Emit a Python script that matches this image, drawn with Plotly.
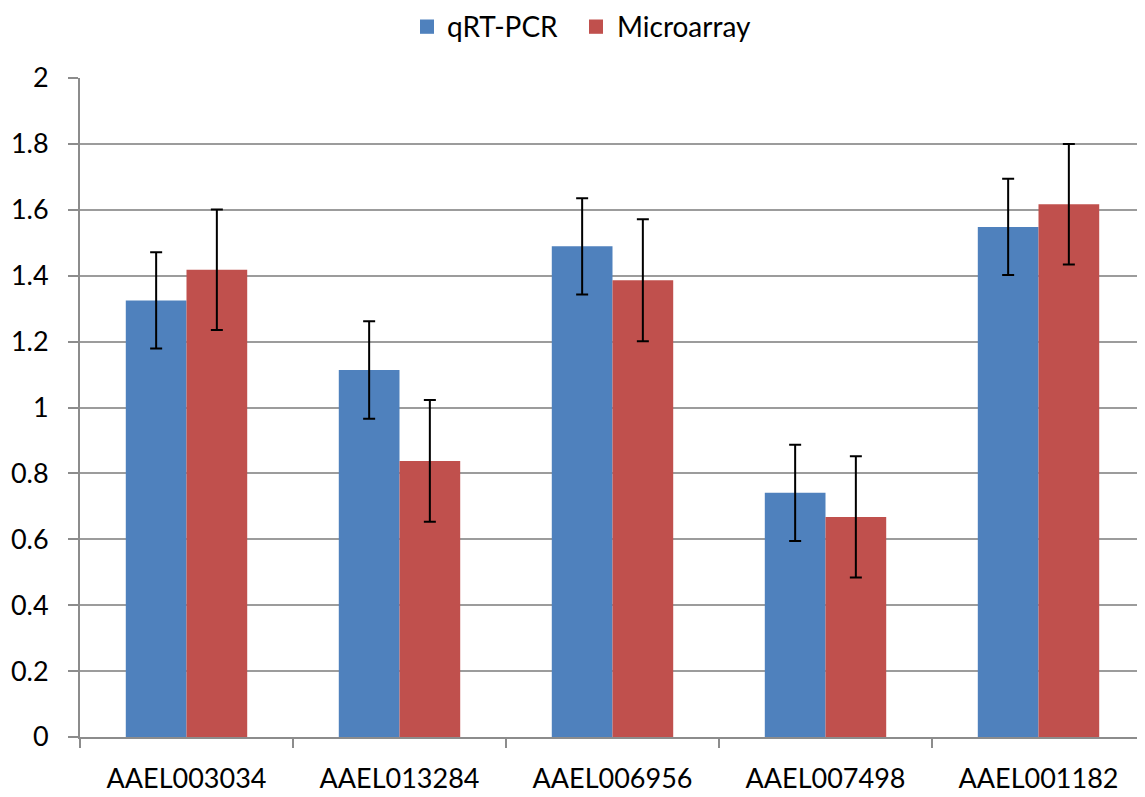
import plotly.graph_objects as go

categories = ["AAEL003034", "AAEL013284", "AAEL006956", "AAEL007498", "AAEL001182"]
qrt_pcr = [1.325, 1.114, 1.489, 0.741, 1.548]
qrt_pcr_err = [0.146, 0.148, 0.146, 0.146, 0.146]
microarray = [1.418, 0.838, 1.386, 0.668, 1.617]
microarray_err = [0.183, 0.185, 0.185, 0.184, 0.183]
y_ticks = [0, 0.2, 0.4, 0.6, 0.8, 1, 1.2, 1.4, 1.6, 1.8, 2]
y_tick_labels = ["0", "0.2", "0.4", "0.6", "0.8", "1", "1.2", "1.4", "1.6", "1.8", "2"]
series_names = ["qRT-PCR", "Microarray"]
series_colors = ["#4F81BD", "#C0504D"]

FONT = "Lato"
W, H = 1137, 789
ML, MR, MT, MB = 72, 0, 70, 60
PW, PH = W - ML - MR, H - MT - MB


def px_x(x):  # figure pixel -> paper x
    return (x - ML) / PW


def px_y(y):  # figure pixel -> paper y
    return 1 + (MT - y) / PH


err_style = dict(type="data", symmetric=True, color="black", thickness=2, width=6)

fig = go.Figure()
for name, vals, errs, col in zip(series_names, [qrt_pcr, microarray],
                                 [qrt_pcr_err, microarray_err], series_colors):
    fig.add_trace(go.Bar(
        name=name, x=categories, y=vals, showlegend=False,
        marker=dict(color=col, line=dict(width=0)),
        error_y=dict(array=errs, **err_style),
    ))

# legend drawn as keys + labels at the top centre
legend_square_x = [412, 581]
legend_text_x = [438, 608]
LEG_Y = 18
for name, col, sx, tx in zip(series_names, series_colors, legend_square_x, legend_text_x):
    fig.add_shape(type="rect", xref="paper", yref="paper",
                  x0=px_x(sx), x1=px_x(sx + 14), y0=px_y(LEG_Y - 6.5), y1=px_y(LEG_Y + 7.8),
                  fillcolor=col, line=dict(width=0))
    fig.add_annotation(text=name, xref="paper", yref="paper",
                       x=px_x(tx), y=px_y(LEG_Y), xanchor="left", yanchor="middle",
                       borderpad=0,
                       showarrow=False, font=dict(family=FONT, size=28, color="black"))

fig.update_layout(
    width=W, height=H,
    margin=dict(l=ML, r=MR, t=MT, b=MB, autoexpand=False),
    paper_bgcolor="white", plot_bgcolor="white",
    barmode="group", bargap=0.43, bargroupgap=0,
    font=dict(family=FONT, size=27, color="black"),
    showlegend=False,
)
fig.update_xaxes(
    type="category", showline=True, linecolor="#8C8C8C", linewidth=2,
    ticks="outside", tickson="boundaries", ticklen=9, tickwidth=2, tickcolor="#8C8C8C",
    showgrid=False, tickfont=dict(family=FONT, size=27, color="black"),
    ticklabelstandoff=17, automargin=False,
)
fig.update_yaxes(
    range=[0, 2], tickvals=y_ticks, ticktext=y_tick_labels,
    showline=True, linecolor="#8C8C8C", linewidth=2,
    ticks="outside", ticklen=10, tickwidth=2, tickcolor="#8C8C8C",
    showgrid=True, gridcolor="#9C9C9C", gridwidth=1.5,
    zeroline=False, tickfont=dict(family=FONT, size=27, color="black"),
    ticklabelstandoff=14, automargin=False,
)

fig.write_html("out.html")
